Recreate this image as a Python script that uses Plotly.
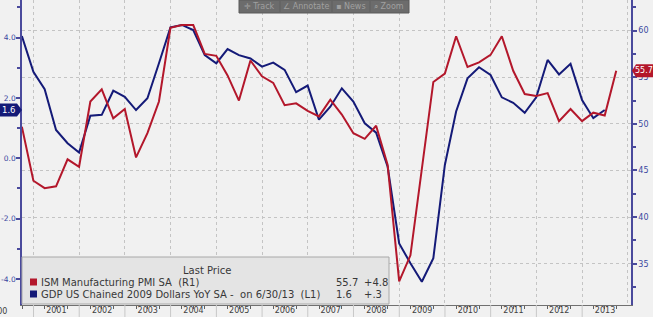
import pandas as pd
import plotly.graph_objects as go

# Quarter-end dates, 2000Q3 .. 2013Q3
quarters = pd.date_range("2000-09-30", periods=53, freq="QE")
year_starts = [f"{y}-01-01" for y in range(2001, 2014)]

ism_pmi = [49.7, 43.9, 43.1, 43.3, 46.2, 45.4, 52.4, 53.7, 50.6, 51.6,
           46.4, 49.0, 52.4, 60.3, 60.6, 60.6, 57.5, 57.3, 55.2, 52.5,
           56.8, 55.1, 54.4, 52.0, 52.2, 51.4, 50.8, 52.6, 51.0, 49.0,
           48.4, 49.8, 45.6, 33.1, 35.9, 45.4, 54.5, 55.4, 59.4, 56.1,
           56.6, 57.4, 59.4, 55.7, 53.2, 53.0, 53.3, 50.3, 51.6, 50.3,
           51.2, 50.9, 55.7]

gdp_yoy = [4.05, 2.87, 2.29, 0.94, 0.50, 0.19, 1.41, 1.44, 2.24, 2.04,
           1.60, 1.99, 3.15, 4.34, 4.42, 4.25, 3.42, 3.15, 3.62, 3.42,
           3.31, 3.04, 3.17, 2.93, 2.19, 2.41, 1.28, 1.71, 2.32, 1.88,
           1.16, 0.85, -0.28, -2.82, -3.48, -4.09, -3.31, -0.22, 1.55, 2.65,
           3.02, 2.76, 2.02, 1.84, 1.51, 2.02, 3.26, 2.78, 3.13, 1.93,
           1.33, 1.6]

left_tickvals = [-4, -2, 0, 2, 4]
left_ticktext = ["-4.0", "-2.0", "0.0", "2.0", "4.0"]

ism_name = "ISM Manufacturing PMI SA\u00a0\u00a0(R1)"
gdp_name = "GDP US Chained 2009 Dollars YoY SA -\u00a0\u00a0on 6/30/13\u00a0\u00a0(L1)"
ism_last, ism_chg = "55.7", "+4.8"
gdp_last, gdp_chg = "1.6", "+.3"

RED = "#b3172b"
NAVY = "#141a78"
AXIS = "#4a4a9c"
TICKTXT = "#3a48a0"
BG = "#f1f1f1"
FONT = "DejaVu Sans"

fig = go.Figure()
fig.add_trace(go.Scatter(x=quarters[:len(gdp_yoy)], y=gdp_yoy, mode="lines",
                         line=dict(color=NAVY, width=2), yaxis="y", name=gdp_name))
fig.add_trace(go.Scatter(x=quarters, y=ism_pmi, mode="lines",
                         line=dict(color=RED, width=2), yaxis="y2", name=ism_name))

W, H = 653, 317
ml, mr, mt, mb = 22, 22, 0, 12
pw = W - ml - mr
ph = H - mt - mb

def px(x):
    return (x - ml) / pw

def py(y):
    return (ph - (y - mt)) / ph

fig.update_layout(
    width=W, height=H,
    margin=dict(l=ml, r=mr, t=mt, b=mb, autoexpand=False),
    paper_bgcolor=BG, plot_bgcolor=BG,
    showlegend=False,
    font=dict(family=FONT, size=9, color="#404040"),
    xaxis=dict(
        type="date", range=["2000-10-01", "2014-01-26"], automargin=False,
        dtick="M12", tick0="2000-01-01", ticklabelmode="period",
        tickformat="%Y", tickfont=dict(size=8, color="#404040"),
        showgrid=True, gridcolor="#c4c4c4", griddash="dot", gridwidth=1,
        ticks="", ticklabelstandoff=-3,
        minor=dict(dtick="M3", tick0="2000-01-01", ticks="outside", ticklen=3,
                   tickcolor="#606060", showgrid=False),
        showline=True, linecolor="#707070", linewidth=1,
        zeroline=False,
    ),
    yaxis=dict(
        range=[-4.862, 5.247], tickmode="array", tickvals=left_tickvals,
        ticktext=left_ticktext, automargin=False,
        showgrid=False, zeroline=False,
        showline=True, linecolor=AXIS, linewidth=1.5,
        ticks="outside", ticklen=4, tickwidth=2, tickcolor=AXIS,
        tickfont=dict(size=7.5, color=TICKTXT), ticklabelstandoff=-1,
        minor=dict(dtick=1, ticks="outside", ticklen=3, tickcolor=AXIS),
    ),
    yaxis2=dict(
        range=[30.57, 63.29], dtick=5, tick0=0, overlaying="y", side="right", automargin=False,
        showgrid=True, gridcolor="#c4c4c4", griddash="dot", gridwidth=1,
        zeroline=False, showline=True, linecolor=AXIS, linewidth=1.5,
        ticks="outside", ticklen=4, tickwidth=2, tickcolor=AXIS,
        tickfont=dict(size=8, color=TICKTXT),
        minor=dict(dtick=2.5, ticks="outside", ticklen=3, tickcolor=AXIS),
    ),
)

shapes = []
ann = []

# year separators below the axis
for ys in year_starts:
    shapes.append(dict(type="line", xref="x", yref="paper", x0=ys, x1=ys,
                       y0=0, y1=py(317), line=dict(color="#c8c8c8", width=1)))

# clipped 2000 label at left edge
ann.append(dict(xref="paper", yref="paper", x=px(9), y=py(311.5), text="2000",
                showarrow=False, xanchor="right", yanchor="middle",
                font=dict(size=8, color="#404040")))

# Toolbar
shapes.append(dict(type="rect", xref="paper", yref="paper",
                   x0=px(239), x1=px(409), y0=py(13), y1=py(0),
                   fillcolor="#6c6c6c", line=dict(color="#5a5a5a", width=1), layer="above"))
for sx in [280, 332, 370]:
    shapes.append(dict(type="line", xref="paper", yref="paper",
                       x0=px(sx), x1=px(sx), y0=py(12), y1=py(1),
                       line=dict(color="#5e5e5e", width=1), layer="above"))
for tx, t in [(259, "\u271b Track"), (306, "\u2220 Annotate"), (351, "\u25aa News"), (389, "\u2315 Zoom")]:
    ann.append(dict(xref="paper", yref="paper", x=px(tx), y=py(6.5), text=t,
                    showarrow=False, xanchor="center", yanchor="middle",
                    font=dict(size=8, color="#a0a0a0")))

# Legend box
shapes.append(dict(type="rect", xref="paper", yref="paper",
                   x0=px(22), x1=px(389), y0=py(304), y1=py(257),
                   fillcolor="#e4e4e4", line=dict(color="#a8a8a8", width=1), layer="above"))
ann.append(dict(xref="paper", yref="paper", x=px(207), y=py(270), text="Last Price",
                showarrow=False, xanchor="center", yanchor="middle",
                font=dict(size=10, color="#383838")))
shapes.append(dict(type="rect", xref="paper", yref="paper",
                   x0=px(30), x1=px(37), y0=py(285.5), y1=py(278.5),
                   fillcolor=RED, line=dict(width=0), layer="above"))
shapes.append(dict(type="rect", xref="paper", yref="paper",
                   x0=px(30), x1=px(37), y0=py(297.5), y1=py(290.5),
                   fillcolor=NAVY, line=dict(width=0), layer="above"))
for yy, name, last, chg in [(282, ism_name, ism_last, ism_chg), (294, gdp_name, gdp_last, gdp_chg)]:
    ann.append(dict(xref="paper", yref="paper", x=px(39), y=py(yy), text=name,
                    showarrow=False, xanchor="left", yanchor="middle",
                    font=dict(size=10, color="#383838")))
    ann.append(dict(xref="paper", yref="paper", x=px(334), y=py(yy), text=last,
                    showarrow=False, xanchor="left", yanchor="middle",
                    font=dict(size=10, color="#383838")))
    ann.append(dict(xref="paper", yref="paper", x=px(362), y=py(yy), text=chg,
                    showarrow=False, xanchor="left", yanchor="middle",
                    font=dict(size=10, color="#383838")))

# Last value tags
gv = gdp_yoy[-1]
hL = 6.5 / (ph / (5.247 + 4.862))
shapes.append(dict(type="path", xref="paper", yref="y",
                   path=(f"M {px(0)},{gv + hL} L {px(17)},{gv + hL} L {px(22)},{gv} "
                         f"L {px(17)},{gv - hL} L {px(0)},{gv - hL} Z"),
                   fillcolor=NAVY, line=dict(width=0), layer="above"))
ann.append(dict(xref="paper", yref="y", x=px(9), y=gv, text=gdp_last,
                showarrow=False, xanchor="center", yanchor="middle",
                font=dict(size=8.5, color="white")))

iv = ism_pmi[-1]
hR = 6.5 / (ph / (63.29 - 30.57))
shapes.append(dict(type="path", xref="paper", yref="y2",
                   path=(f"M {px(632)},{iv} L {px(636)},{iv + hR} L {px(653)},{iv + hR} "
                         f"L {px(653)},{iv - hR} L {px(636)},{iv - hR} Z"),
                   fillcolor=RED, line=dict(width=0), layer="above"))
ann.append(dict(xref="paper", yref="y2", x=px(644), y=iv, text=ism_last,
                showarrow=False, xanchor="center", yanchor="middle",
                font=dict(size=8, color="white")))

fig.update_layout(shapes=shapes, annotations=ann)
fig.write_html("out.html")
